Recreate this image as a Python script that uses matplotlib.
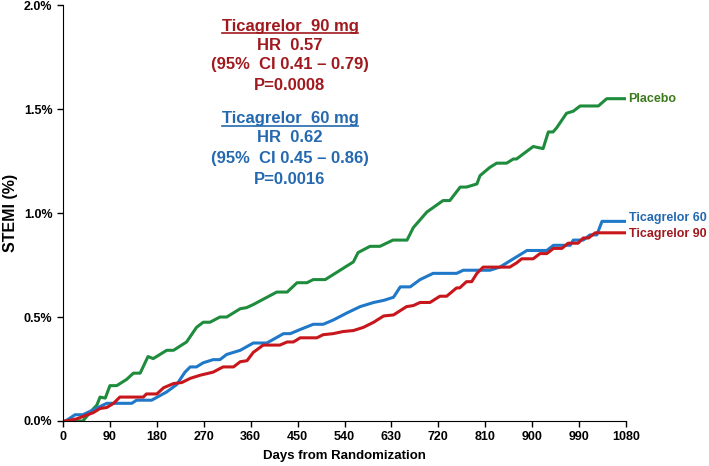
import matplotlib.pyplot as plt
from matplotlib.ticker import FuncFormatter

# Kaplan-Meier style cumulative STEMI incidence (%)
placebo_days = [5, 38, 55, 65, 71, 81, 90, 103, 122, 135, 148, 163, 173, 199, 212, 237,
                256, 269, 282, 301, 314, 340, 352, 365, 410, 430, 449, 468, 480, 503,
                557, 566, 589, 608, 633, 660, 672, 698, 729, 742, 762, 774, 794, 800,
                819, 832, 851, 864, 870, 902, 921, 931, 940, 947, 966, 979, 992, 1027,
                1043, 1080]
placebo_pct = [0.0, 0.0, 0.05, 0.077, 0.115, 0.11, 0.17, 0.17, 0.2, 0.23, 0.23, 0.31, 0.3,
               0.34, 0.34, 0.38, 0.45, 0.475, 0.475, 0.50, 0.50, 0.54, 0.545, 0.56, 0.62,
               0.62, 0.665, 0.665, 0.68, 0.68, 0.765, 0.81, 0.84, 0.84, 0.87, 0.87, 0.93,
               1.005, 1.06, 1.06, 1.125, 1.125, 1.14, 1.18, 1.22, 1.24, 1.24, 1.26, 1.26,
               1.32, 1.31, 1.39, 1.39, 1.41, 1.48, 1.49, 1.515, 1.515, 1.55, 1.55]

tica60_days = [5, 23, 38, 55, 84, 132, 141, 170, 199, 218, 234, 244, 256, 269, 288, 301,
               314, 340, 365, 391, 423, 436, 455, 480, 499, 518, 545, 570, 596, 615, 634,
               647, 666, 685, 710, 755, 768, 819, 838, 851, 864, 890, 928, 941, 973, 979,
               998, 1011, 1024, 1034, 1080]
tica60_pct = [0.0, 0.03, 0.03, 0.05, 0.085, 0.085, 0.10, 0.10, 0.14, 0.175, 0.235, 0.26,
              0.26, 0.28, 0.295, 0.295, 0.32, 0.34, 0.375, 0.375, 0.42, 0.42, 0.44, 0.465,
              0.465, 0.485, 0.52, 0.55, 0.57, 0.58, 0.595, 0.645, 0.645, 0.68, 0.71, 0.71,
              0.725, 0.725, 0.74, 0.76, 0.78, 0.82, 0.82, 0.845, 0.845, 0.87, 0.87, 0.895,
              0.895, 0.96, 0.96]

tica90_days = [5, 26, 58, 71, 84, 97, 109, 154, 160, 180, 193, 212, 228, 244, 263, 288,
               307, 327, 340, 353, 365, 384, 416, 430, 442, 455, 487, 499, 518, 537, 557,
               576, 596, 615, 634, 659, 672, 685, 704, 723, 736, 755, 761, 774, 784, 794,
               806, 857, 870, 880, 902, 915, 928, 941, 957, 969, 988, 998, 1008, 1021, 1080]
tica90_pct = [0.0, 0.01, 0.04, 0.06, 0.065, 0.085, 0.115, 0.115, 0.13, 0.13, 0.16, 0.18,
              0.185, 0.205, 0.22, 0.235, 0.26, 0.26, 0.285, 0.29, 0.33, 0.365, 0.365, 0.38,
              0.38, 0.40, 0.40, 0.415, 0.42, 0.43, 0.435, 0.45, 0.475, 0.505, 0.51, 0.55,
              0.555, 0.57, 0.57, 0.60, 0.60, 0.64, 0.64, 0.67, 0.67, 0.71, 0.74, 0.74, 0.76,
              0.78, 0.78, 0.805, 0.805, 0.83, 0.83, 0.855, 0.855, 0.88, 0.88, 0.905, 0.905]

x_ticks = list(range(0, 1081, 90))
y_ticks = [0.0, 0.5, 1.0, 1.5, 2.0]

green = '#1E8C3C'
blue = '#1F78C8'
red = '#C8161D'

plt.rcParams['font.family'] = ['Liberation Sans', 'DejaVu Sans']

fig = plt.figure(figsize=(7.09, 4.66), dpi=100)
ax = fig.add_axes([0.0889, 0.0966, 0.794, 0.8924])

ax.plot(placebo_days, placebo_pct, color=green, lw=2.2, solid_joinstyle='round')
ax.plot(tica60_days, tica60_pct, color=blue, lw=2.2, solid_joinstyle='round')
ax.plot(tica90_days, tica90_pct, color=red, lw=2.2, solid_joinstyle='round')

ax.set_xlim(0, 1080)
ax.set_ylim(0, 2.0)
ax.set_xticks(x_ticks)
ax.set_yticks(y_ticks)
ax.yaxis.set_major_formatter(FuncFormatter(lambda v, p: f'{v:.1f}%'))
ax.tick_params(direction='out', length=4, width=1, labelsize=9)
for lbl in ax.get_xticklabels() + ax.get_yticklabels():
    lbl.set_fontweight('bold')
ax.spines['top'].set_visible(False)
ax.spines['right'].set_visible(False)

ax.set_xlabel('Days from Randomization', fontsize=9.5, fontweight='bold', labelpad=5)
ax.set_ylabel('STEMI (%)', fontsize=11.5, fontweight='bold', labelpad=4)

# end-of-curve labels
ax.text(1085, 1.55, 'Placebo', color='#3C7A1E', fontsize=9, fontweight='bold',
        va='center', ha='left', clip_on=False)
ax.text(1085, 0.975, 'Ticagrelor 60', color='#2469B0', fontsize=9, fontweight='bold',
        va='center', ha='left', clip_on=False)
ax.text(1085, 0.90, 'Ticagrelor 90', color='#A0191E', fontsize=9, fontweight='bold',
        va='center', ha='left', clip_on=False)

# hazard ratio annotations
txt_red = '#A0191E'
txt_blue = '#2469B0'
cx = 0.409
fig_lines = [
    ('Ticagrelor  90 mg', 26, txt_red, True),
    ('HR  0.57', 45, txt_red, False),
    ('(95%  CI 0.41 \u2013 0.79)', 65, txt_red, False),
    ('P=0.0008', 86, txt_red, False),
    ('Ticagrelor  60 mg', 119, txt_blue, True),
    ('HR  0.62', 138, txt_blue, False),
    ('(95%  CI 0.45 \u2013 0.86)', 159, txt_blue, False),
    ('P=0.0016', 179, txt_blue, False),
]
for s, ypx, col, underline in fig_lines:
    t = fig.text(cx, 1 - ypx / 466, s, color=col, fontsize=12, fontweight='bold',
                 ha='center', va='center')
    if underline:
        fig.canvas.draw()
        bb = t.get_window_extent()
        y0 = bb.y0 + 1
        fig.add_artist(plt.Line2D([bb.x0 / 709, bb.x1 / 709], [y0 / 466, y0 / 466],
                                  color=col, lw=1.2, transform=fig.transFigure))

fig.savefig('out.png', dpi=100)
